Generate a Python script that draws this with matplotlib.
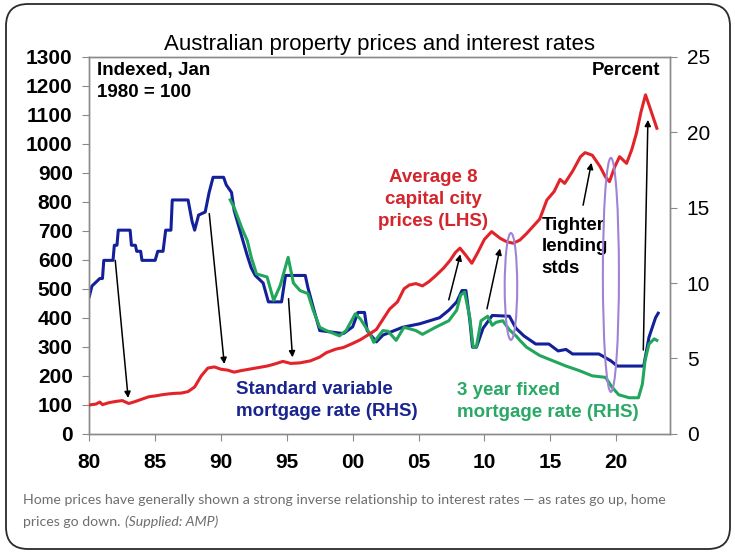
import matplotlib
matplotlib.use('Agg')
import matplotlib.pyplot as plt
from matplotlib.patches import Ellipse, FancyBboxPatch
from matplotlib.transforms import IdentityTransform

# Average 8 capital city prices, indexed Jan 1980 = 100 (LHS)
price_years = [1980.0, 1980.5, 1980.8, 1981.0, 1981.5, 1982.0, 1982.5, 1983.0, 1983.5, 1984.0,
               1984.5, 1985.0, 1985.5, 1986.0, 1986.5, 1987.0, 1987.5, 1988.0, 1988.5, 1989.0,
               1989.5, 1990.0, 1990.5, 1991.0, 1991.5, 1992.0, 1992.5, 1993.0, 1993.5, 1994.0,
               1994.7, 1995.3, 1996.0, 1996.8, 1997.5, 1998.0, 1998.7, 1999.3, 2000.0, 2000.6,
               2001.3, 2001.8, 2002.3, 2002.8, 2003.4, 2003.9, 2004.3, 2004.8, 2005.3, 2005.8,
               2006.3, 2006.9, 2007.4, 2007.8, 2008.15, 2008.6, 2009.05, 2009.5, 2010.0, 2010.55,
               2011.2, 2011.7, 2012.2, 2012.7, 2013.2, 2013.8, 2014.2, 2014.75, 2015.3, 2015.75,
               2016.1, 2016.7, 2017.3, 2017.65, 2018.2, 2018.8, 2019.2, 2019.5, 2019.9, 2020.27,
               2020.8, 2021.2, 2021.55, 2021.9, 2022.24, 2022.6, 2023.1]
price_index = [100, 103, 110, 101, 108, 112, 115, 105, 112, 120,
               128, 131, 135, 138, 140, 141, 146, 162, 200, 227,
               231, 223, 220, 213, 218, 222, 226, 230, 234, 240,
               250, 243, 245, 252, 265, 280, 292, 298, 312, 325,
               345, 360, 395, 430, 455, 500, 513, 518, 510, 525,
               545, 571, 598, 625, 640, 615, 588, 625, 670, 697,
               674, 662, 657, 668, 690, 720, 740, 806, 835, 877,
               863, 905, 955, 969, 960, 920, 885, 869, 920, 955,
               932, 980, 1036, 1110, 1168, 1120, 1053]

# Standard variable mortgage rate, percent (RHS)
svr_years = [1980.0, 1980.2, 1980.8, 1981.0, 1981.1, 1981.8, 1981.9, 1982.1, 1982.2, 1983.1,
             1983.2, 1983.5, 1983.6, 1983.9, 1984.0, 1985.0, 1985.2, 1985.6, 1985.8, 1986.2,
             1986.3, 1987.5, 1987.8, 1988.0, 1988.3, 1988.8, 1989.1, 1989.4, 1990.2, 1990.4,
             1990.8, 1991.0, 1991.6, 1992.0, 1992.3, 1992.6, 1993.2, 1993.6, 1994.6, 1994.9,
             1996.4, 1996.6, 1997.0, 1997.5, 1999.3, 2000.0, 2000.4, 2000.9, 2001.1, 2001.8,
             2002.3, 2003.8, 2005.1, 2006.6, 2007.3, 2007.9, 2008.3, 2008.6, 2008.9, 2009.1,
             2009.4, 2009.9, 2010.6, 2011.9, 2012.4, 2013.0, 2013.9, 2014.9, 2015.6, 2016.2,
             2016.7, 2018.7, 2019.6, 2020.1, 2022.1, 2022.5, 2023.0, 2023.2]
svr_rate = [9.1, 9.8, 10.3, 10.3, 11.5, 11.5, 12.5, 12.5, 13.5, 13.5,
            12.5, 12.5, 12.1, 12.1, 11.5, 11.5, 12.1, 12.1, 13.5, 13.5,
            15.5, 15.5, 14.1, 13.5, 14.5, 14.7, 16.0, 17.0, 17.0, 16.5,
            16.0, 14.8, 13.0, 11.8, 11.0, 10.5, 10.0, 8.75, 8.75, 10.5,
            10.5, 9.7, 8.4, 6.85, 6.65, 7.1, 8.05, 8.05, 6.85, 6.1,
            6.55, 7.07, 7.3, 7.7, 8.2, 8.75, 9.5, 9.5, 7.5, 5.75,
            5.75, 7.0, 7.85, 7.8, 7.0, 6.5, 5.96, 5.96, 5.5, 5.6,
            5.3, 5.3, 4.85, 4.5, 4.5, 6.4, 7.7, 8.0]

# 3 year fixed mortgage rate, percent (RHS)
fixed_years = [1990.7, 1991.0, 1991.6, 1992.0, 1992.3, 1992.7, 1993.5, 1994.0, 1994.5, 1995.1,
               1995.5, 1996.0, 1996.6, 1997.0, 1997.5, 1998.0, 1999.0, 1999.5, 2000.2, 2000.6,
               2001.3, 2001.6, 2002.3, 2002.7, 2003.3, 2003.9, 2004.8, 2005.3, 2006.3, 2007.3,
               2007.9, 2008.2, 2008.5, 2008.9, 2009.15, 2009.4, 2009.75, 2010.25, 2010.6, 2010.9,
               2011.4, 2011.9, 2012.4, 2012.7, 2013.2, 2014.2, 2015.2, 2016.2, 2017.2, 2018.2,
               2019.2, 2019.7, 2020.2, 2021.0, 2021.7, 2022.0, 2022.2, 2022.5, 2022.9, 2023.1]
fixed_rate = [15.5, 15.0, 13.6, 12.8, 11.7, 10.6, 10.4, 8.85, 9.84, 11.7,
              10.0, 9.5, 9.3, 8.2, 7.07, 6.85, 6.5, 6.85, 7.96, 7.6,
              6.65, 6.07, 6.85, 6.8, 6.2, 7.07, 6.85, 6.6, 7.07, 7.5,
              8.2, 9.2, 9.4, 7.7, 5.75, 5.8, 7.5, 7.8, 7.2, 7.4,
              7.5, 6.9, 6.5, 6.2, 5.75, 5.2, 4.85, 4.5, 4.2, 3.85,
              3.75, 3.1, 2.6, 2.4, 2.4, 3.3, 4.85, 5.96, 6.3, 6.2]

tick_years = [1980, 1985, 1990, 1995, 2000, 2005, 2010, 2015, 2020]
tick_labels = ['80', '85', '90', '95', '00', '05', '10', '15', '20']

# arrows: (tail year, tail index, head year, head index) on the LHS scale
arrows = [(1981.97, 598, 1982.95, 124),
          (1989.11, 759, 1990.25, 241),
          (1995.13, 466, 1995.43, 264),
          (2007.30, 462, 2008.18, 619),
          (2010.20, 431, 2011.19, 639),
          (2017.50, 788, 2018.13, 934),
          (2022.07, 289, 2022.42, 1082)]

# purple rings: (centre year, centre index, width in years, height in index pts)
rings = [(2012.02, 508, 0.95, 368),
         (2019.61, 548, 1.22, 806)]

RED = '#e2242a'
BLUE = '#13209a'
GREEN = '#21a65c'
PURPLE = '#a083d6'
GREY = '#8a8a8a'
CAPTION = '#6e6e6e'

plt.rcParams['font.family'] = ['Liberation Sans', 'DejaVu Sans']

fig = plt.figure(figsize=(7.35, 5.53), dpi=100)
ax = fig.add_axes([0.1215, 0.2152, 0.7901, 0.6826])
ax2 = ax.twinx()

# rates first so the price line sits on top
ax2.plot(svr_years, svr_rate, color=BLUE, lw=2.2, zorder=2)
ax2.plot(fixed_years, fixed_rate, color=GREEN, lw=2.2, zorder=3)
ax2.set_ylim(0, 25)
ax2.set_yticks(range(0, 26, 5))

ax.set_zorder(ax2.get_zorder() + 1)
ax.patch.set_visible(False)
ax.plot(price_years, price_index, color=RED, lw=2.2, zorder=4)
ax.set_xlim(1980, 2024.1)
ax.set_ylim(0, 1300)
ax.set_yticks(range(0, 1301, 100))
ax.set_xticks(tick_years)
ax.set_xticklabels(tick_labels)

for cx, cy, w, h in rings:
    ax.add_patch(Ellipse((cx, cy), w, h, fill=False, ec=PURPLE, lw=1.5, zorder=5))

for x0, y0, x1, y1 in arrows:
    ax.annotate('', xy=(x1, y1), xytext=(x0, y0),
                arrowprops=dict(arrowstyle='-|>', color='black', lw=1.1,
                                mutation_scale=9, shrinkA=0, shrinkB=0), zorder=6)

for a in (ax, ax2):
    for s in a.spines.values():
        s.set_color(GREY)
        s.set_linewidth(1.0)
ax.tick_params(axis='y', direction='out', length=5, color=GREY, pad=7, labelsize=15)
ax.tick_params(axis='x', direction='out', length=5, color=GREY, pad=9, labelsize=15)
ax2.tick_params(axis='y', direction='out', length=5, color=GREY, pad=7, labelsize=15)
for lab in ax.get_yticklabels() + ax.get_xticklabels():
    lab.set_fontweight('bold')

ax.set_title('Australian property prices and interest rates', fontsize=16, pad=5)

# labels inside the plot
ax.text(0.013, 0.985, 'Indexed, Jan\n1980 = 100', transform=ax.transAxes,
        ha='left', va='top', fontsize=13.5, fontweight='bold', linespacing=1.4)
ax.text(0.983, 0.985, 'Percent', transform=ax.transAxes,
        ha='right', va='top', fontsize=13.5, fontweight='bold')
ax.text(0.592, 0.703, 'Average 8\ncapital city\nprices (LHS)', transform=ax.transAxes,
        ha='center', va='top', fontsize=13.5, fontweight='bold', color='#d3252b',
        linespacing=1.4)
ax.text(0.779, 0.575, 'Tighter\nlending\nstds', transform=ax.transAxes,
        ha='left', va='top', fontsize=13.5, fontweight='bold', linespacing=1.35)
ax.text(0.253, 0.14, 'Standard variable\nmortgage rate (RHS)', transform=ax.transAxes,
        ha='left', va='top', fontsize=13.5, fontweight='bold', color='#1a248f',
        linespacing=1.35)
ax.text(0.633, 0.137, '3 year fixed\nmortgage rate (RHS)', transform=ax.transAxes,
        ha='left', va='top', fontsize=13.5, fontweight='bold', color='#2aa866',
        linespacing=1.35)

# caption under the chart
fig.text(23 / 735, 1 - 500 / 553,
         'Home prices have generally shown a strong inverse relationship to interest '
         'rates \u2014 as rates go up, home',
         ha='left', va='center', fontsize=10.2, color=CAPTION, family='Lato')
cap2 = fig.text(23 / 735, 1 - 522 / 553, 'prices go down.',
                ha='left', va='center', fontsize=10.2, color=CAPTION, family='Lato')
ax.annotate('(Supplied: AMP)', xy=(1, 0.5), xycoords=cap2, xytext=(3, 0),
            textcoords='offset points', ha='left', va='center', fontsize=10.2,
            color=CAPTION, family='Lato', style='italic', annotation_clip=False)

# rounded frame around the whole card
fig.patches.append(FancyBboxPatch((6, 4), 724, 545, boxstyle='round,pad=0,rounding_size=22',
                                  transform=IdentityTransform(), fill=False,
                                  ec='#2a2a2a', lw=1.3, figure=fig))

fig.savefig('out.png', dpi=100, facecolor='white')
